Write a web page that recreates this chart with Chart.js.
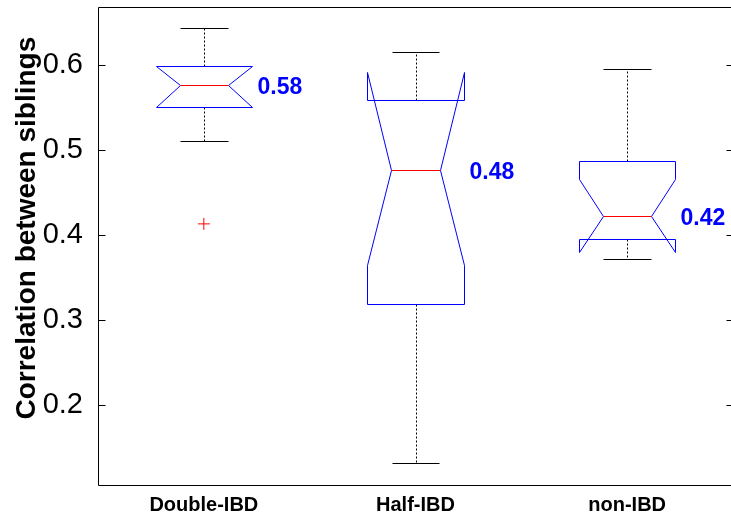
<!DOCTYPE html>
<html>
<head>
<meta charset="utf-8">
<script src="https://cdn.jsdelivr.net/npm/chart.js@4.4.0/dist/chart.umd.min.js"></script>
<style>
  html, body { margin: 0; padding: 0; overflow: hidden; background: #fff; }
  #wrap { width: 731px; height: 521px; overflow: hidden; }
  canvas { display: block; }
</style>
</head>
<body>
<div id="wrap"><canvas id="c" width="740" height="521"></canvas></div>
<script>
// box plot summary
const categories = ["Double-IBD", "Half-IBD", "non-IBD"]
const medians = [0.576, 0.476, 0.422]
const q1 = [0.55, 0.3185, 0.395]
const q3 = [0.599, 0.559, 0.4874]
const notchLo = [0.55, 0.3647, 0.3804]
const notchHi = [0.599, 0.591, 0.4655]
const whiskerLo = [0.511, 0.1314, 0.3721]
const whiskerHi = [0.6435, 0.615, 0.5953]
const outliers = [{ x: 1, y: 0.413 }]
const medianLabels = ["0.58", "0.48", "0.42"]
const yTicks = [0.2, 0.3, 0.4, 0.5, 0.6]
const yTitle = "Correlation between siblings"

const FONT = "'Liberation Sans', Arial, Helvetica, sans-serif"
const boxHalf = 0.227
const notchHalf = 0.114
const capHalf = 0.113

const notchBoxes = {
  id: "notchBoxes",
  afterDatasetsDraw(chart) {
    const { ctx } = chart
    const x = chart.scales.x, y = chart.scales.y
    const py = (v) => Math.round(y.getPixelForValue(v)) + 0.5
    const px = (v) => Math.round(x.getPixelForValue(v)) + 0.5
    ctx.save()
    ctx.lineWidth = 1
    categories.forEach((cat, i) => {
      const pos = i + 1
      const cx = px(pos)
      const xl = px(pos - boxHalf), xr = px(pos + boxHalf)
      const nl = px(pos - notchHalf), nr = px(pos + notchHalf)

      // whiskers (dotted)
      ctx.strokeStyle = "#000"
      ctx.setLineDash([2, 2])
      ctx.beginPath()
      ctx.moveTo(cx, py(q3[i]))
      ctx.lineTo(cx, py(whiskerHi[i]))
      ctx.moveTo(cx, py(q1[i]))
      ctx.lineTo(cx, py(whiskerLo[i]))
      ctx.stroke()
      ctx.setLineDash([])

      // caps
      ctx.beginPath()
      ctx.moveTo(px(pos - capHalf), py(whiskerHi[i]))
      ctx.lineTo(px(pos + capHalf), py(whiskerHi[i]))
      ctx.moveTo(px(pos - capHalf), py(whiskerLo[i]))
      ctx.lineTo(px(pos + capHalf), py(whiskerLo[i]))
      ctx.stroke()

      // notched box outline
      ctx.strokeStyle = "#0000ff"
      ctx.beginPath()
      ctx.moveTo(xl, py(q1[i]))
      ctx.lineTo(xl, py(notchLo[i]))
      ctx.lineTo(nl, py(medians[i]))
      ctx.lineTo(xl, py(notchHi[i]))
      ctx.lineTo(xl, py(q3[i]))
      ctx.lineTo(xr, py(q3[i]))
      ctx.lineTo(xr, py(notchHi[i]))
      ctx.lineTo(nr, py(medians[i]))
      ctx.lineTo(xr, py(notchLo[i]))
      ctx.lineTo(xr, py(q1[i]))
      ctx.closePath()
      ctx.stroke()

      // median
      ctx.strokeStyle = "#ff0000"
      ctx.beginPath()
      ctx.moveTo(nl, py(medians[i]))
      ctx.lineTo(nr, py(medians[i]))
      ctx.stroke()

      // median value label
      ctx.fillStyle = "#0000ff"
      ctx.font = "bold 23px " + FONT
      ctx.textAlign = "left"
      ctx.textBaseline = "middle"
      ctx.fillText(medianLabels[i], xr + 5, y.getPixelForValue(medians[i]) + 2)
    })
    ctx.restore()
  },
  afterDraw(chart) {
    const { ctx, chartArea: a } = chart
    const y = chart.scales.y
    const l = Math.round(a.left) + 0.5, r = Math.round(a.right) + 0.5
    const t = Math.round(a.top) + 0.5, b = Math.round(a.bottom) + 0.5
    ctx.save()
    ctx.strokeStyle = "#000"
    ctx.lineWidth = 1
    ctx.beginPath()
    ctx.moveTo(r, t)
    ctx.lineTo(l, t)
    ctx.lineTo(l, b)
    ctx.lineTo(r, b)
    ctx.lineTo(r, t)
    yTicks.forEach((v) => {
      const yy = Math.round(y.getPixelForValue(v)) + 0.5
      ctx.moveTo(l, yy)
      ctx.lineTo(l + 7, yy)
      ctx.moveTo(r, yy)
      ctx.lineTo(r - 7, yy)
    })
    ctx.stroke()

    // y axis title, sits a bit above the axis middle in the original
    ctx.translate(35, y.getPixelForValue(0.408))
    ctx.rotate(-Math.PI / 2)
    ctx.fillStyle = "#000"
    ctx.font = "bold 28px " + FONT
    ctx.textAlign = "center"
    ctx.textBaseline = "alphabetic"
    ctx.fillText(yTitle, 0, 0)
    ctx.restore()
  },
}

const noPad = (s) => {
  s.paddingTop = 0
  s.paddingBottom = 0
  s.paddingLeft = 0
  s.paddingRight = 0
}

const chart = new Chart(document.getElementById("c"), {
  type: "scatter",
  data: {
    datasets: [
      {
        data: outliers,
        pointStyle: "cross",
        radius: 6,
        borderColor: "#ff0000",
        borderWidth: 1,
      },
    ],
  },
  options: {
    responsive: false,
    animation: false,
    events: [],
    layout: { padding: { top: 7, right: 4, left: 0, bottom: 0 } },
    plugins: {
      legend: { display: false },
      tooltip: { enabled: false },
    },
    scales: {
      x: {
        type: "linear",
        min: 0.5,
        max: 3.5,
        grid: { display: false, drawTicks: false },
        border: { display: false },
        afterBuildTicks: (s) => { s.ticks = categories.map((c, i) => ({ value: i + 1 })) },
        afterFit: (s) => { s.height = 36; noPad(s) },
        ticks: {
          padding: 8,
          color: "#000",
          font: { family: FONT, size: 20, weight: "bold" },
          callback: (v) => categories[v - 1],
        },
      },
      y: {
        min: 0.106,
        max: 0.668,
        grid: { display: false, drawTicks: false },
        border: { display: false },
        afterBuildTicks: (s) => { s.ticks = yTicks.map((v) => ({ value: v })) },
        afterFit: (s) => { s.width = 98; noPad(s) },
        ticks: {
          padding: 15,
          color: "#000",
          font: { family: FONT, size: 29 },
          callback: (v) => v.toFixed(1),
        },
      },
    },
  },
  plugins: [notchBoxes],
})
</script>
</body>
</html>
